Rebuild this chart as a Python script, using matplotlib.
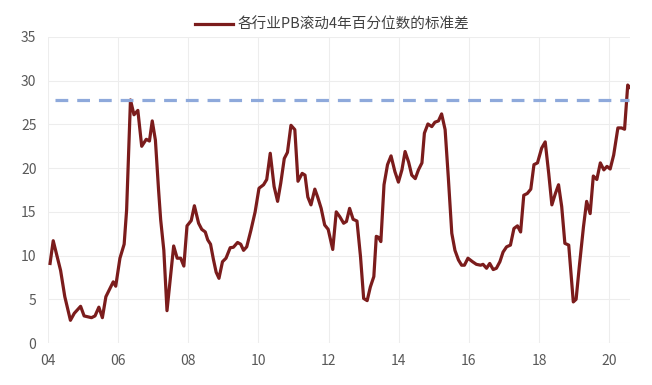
import numpy as np
import matplotlib.pyplot as plt

plt.rcParams['font.family'] = ['Noto Sans CJK SC', 'DejaVu Sans']

# 时间（年，小数）与数值，读自原图
t = [2004.07, 2004.16, 2004.37, 2004.49, 2004.65, 2004.76, 2004.94, 2005.04, 2005.25, 2005.35,
     2005.46, 2005.56, 2005.66, 2005.87, 2005.94, 2006.06, 2006.18, 2006.25, 2006.36, 2006.46,
     2006.57, 2006.68, 2006.81, 2006.90, 2006.98, 2007.07, 2007.16, 2007.22, 2007.31, 2007.40,
     2007.50, 2007.59, 2007.69, 2007.79, 2007.88, 2007.97, 2008.09, 2008.18, 2008.30, 2008.39,
     2008.49, 2008.56, 2008.64, 2008.72, 2008.80, 2008.88, 2008.98, 2009.08, 2009.20, 2009.29,
     2009.41, 2009.50, 2009.58, 2009.67, 2009.79, 2009.91, 2010.02, 2010.15, 2010.24, 2010.34,
     2010.45, 2010.55, 2010.64, 2010.74, 2010.83, 2010.93, 2011.04, 2011.13, 2011.25, 2011.33,
     2011.41, 2011.50, 2011.61, 2011.69, 2011.79, 2011.89, 2011.99, 2012.12, 2012.22, 2012.32,
     2012.43, 2012.51, 2012.60, 2012.70, 2012.81, 2012.91, 2013.00, 2013.10, 2013.19, 2013.29,
     2013.36, 2013.42, 2013.49, 2013.58, 2013.68, 2013.78, 2013.89, 2013.99, 2014.09, 2014.18,
     2014.28, 2014.37, 2014.47, 2014.56, 2014.66, 2014.73, 2014.83, 2014.94, 2015.03, 2015.13,
     2015.22, 2015.32, 2015.41, 2015.51, 2015.60, 2015.70, 2015.79, 2015.87, 2015.97, 2016.10,
     2016.21, 2016.33, 2016.40, 2016.50, 2016.59, 2016.69, 2016.78, 2016.88, 2016.97, 2017.07,
     2017.18, 2017.28, 2017.38, 2017.47, 2017.56, 2017.66, 2017.76, 2017.85, 2017.95, 2018.07,
     2018.17, 2018.27, 2018.36, 2018.46, 2018.55, 2018.64, 2018.73, 2018.84, 2018.97, 2019.05,
     2019.14, 2019.26, 2019.35, 2019.45, 2019.54, 2019.64, 2019.74, 2019.84, 2019.93, 2020.02,
     2020.12, 2020.24, 2020.34, 2020.43, 2020.52, 2020.57]
v = [9.1, 11.7, 8.3, 5.3, 2.6, 3.4, 4.2, 3.1, 2.9, 3.1,
     4.1, 2.9, 5.3, 7.0, 6.5, 9.7, 11.3, 15.2, 27.8, 26.1,
     26.6, 22.5, 23.3, 23.1, 25.4, 23.2, 17.5, 14.1, 10.6, 3.7,
     7.6, 11.1, 9.7, 9.7, 8.8, 13.4, 14.0, 15.7, 13.7, 13.0,
     12.7, 11.8, 11.3, 9.6, 8.1, 7.4, 9.3, 9.7, 10.9, 10.95,
     11.5, 11.3, 10.6, 11.0, 12.9, 15.0, 17.7, 18.1, 18.7, 21.7,
     17.9, 16.2, 18.3, 21.1, 21.8, 24.9, 24.4, 18.5, 19.4, 19.2,
     16.7, 15.8, 17.6, 16.7, 15.4, 13.5, 13.0, 10.7, 15.0, 14.45,
     13.7, 13.9, 15.4, 14.15, 13.95, 9.9, 5.1, 4.85, 6.4, 7.6,
     12.2, 12.1, 11.6, 18.1, 20.4, 21.4, 19.6, 18.4, 19.8, 21.9,
     20.7, 19.2, 18.8, 19.8, 20.6, 24.0, 25.05, 24.75, 25.25, 25.4,
     26.2, 24.4, 19.0, 12.55, 10.6, 9.5, 8.9, 8.9, 9.7, 9.3,
     9.0, 8.9, 9.0, 8.55, 9.1, 8.4, 8.55, 9.3, 10.4, 11.0,
     11.2, 13.1, 13.4, 12.7, 16.9, 17.1, 17.6, 20.4, 20.6, 22.3,
     23.0, 19.4, 15.8, 17.1, 18.1, 15.6, 11.4, 11.2, 4.7, 5.0,
     8.7, 13.3, 16.2, 14.8, 19.1, 18.7, 20.6, 19.8, 20.2, 19.9,
     21.5, 24.6, 24.6, 24.45, 29.5, 29.25]
ref_level = 27.8
x_ticks = [2004, 2006, 2008, 2010, 2012, 2014, 2016, 2018, 2020]
x_labels = ['04', '06', '08', '10', '12', '14', '16', '18', '20']
y_ticks = [0, 5, 10, 15, 20, 25, 30, 35]

fig = plt.figure(figsize=(6.52, 3.85), dpi=100)
ax = fig.add_axes([0.073, 0.109, 0.893, 0.795])

line, = ax.plot(t, v, color='#7B1C1C', lw=2.3, solid_joinstyle='round',
                label='各行业PB滚动4年百分位数的标准差')
ax.plot([2004.2, t[-1]], [ref_level, ref_level], color='#8EA9DB', lw=2.3,
        dashes=(4.0, 2.8))

ax.set_xlim(2004, 2020.58)
ax.set_ylim(0, 35)
ax.set_xticks(x_ticks)
ax.set_xticklabels(x_labels)
ax.set_yticks(y_ticks)
ax.grid(True, color='#EDEDED', lw=0.8)
ax.set_axisbelow(True)
for s in ax.spines.values():
    s.set_visible(False)
ax.tick_params(length=0, colors='#595959', labelsize=10, pad=8)

fig.legend(handles=[line], loc='center', bbox_to_anchor=(0.51, 0.935), frameon=False,
           fontsize=10.5, handlelength=2.6, handletextpad=0.3, labelcolor='#404040')

fig.savefig('out.png', dpi=100)
